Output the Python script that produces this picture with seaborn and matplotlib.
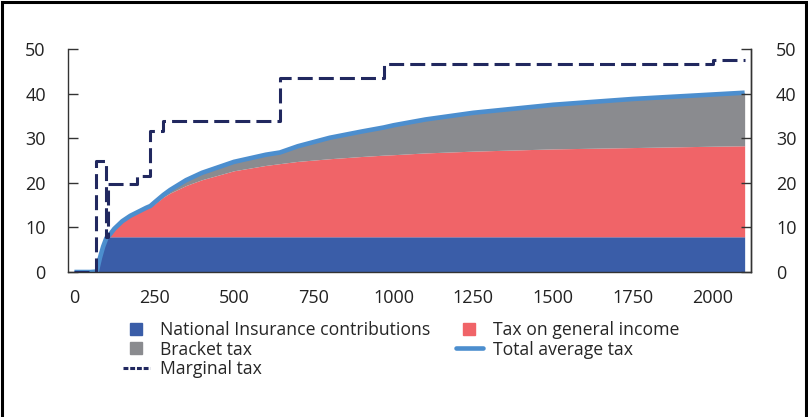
import numpy as np
import pandas as pd
import matplotlib
matplotlib.use("Agg")
import matplotlib.pyplot as plt
from matplotlib.lines import Line2D
from matplotlib.patches import Rectangle
import seaborn as sns

# --------------------------------------------------
# DATA (income in 1000 NOK, tax in percent)
# --------------------------------------------------

income = [0, 50, 70, 80, 90, 100, 110, 125, 150, 175, 200, 225, 238, 250, 279,
          300, 350, 400, 500, 600, 644, 700, 800, 900, 969, 1000, 1100, 1250,
          1500, 1750, 2000, 2100]

ni_contrib = [0, 0, 0.1, 3.2, 5.7, 7.6, 7.9, 7.9, 7.9, 7.9, 7.9, 7.9, 7.9, 7.9, 7.9,
              7.9, 7.9, 7.9, 7.9, 7.9, 7.9, 7.9, 7.9, 7.9, 7.9, 7.9, 7.9, 7.9,
              7.9, 7.9, 7.9, 7.9]

general_tax = [0, 0, 0, 0, 0, 0, 0.4, 1.8, 3.5, 4.7, 5.6, 6.3, 6.6, 7.3, 8.9,
               9.8, 11.5, 12.8, 14.8, 16.0, 16.4, 16.9, 17.5, 18.0, 18.3, 18.4, 18.8, 19.2,
               19.7, 20.0, 20.3, 20.4]

bracket_tax = [0, 0, 0, 0, 0, 0, 0, 0, 0, 0, 0, 0.2, 0.3, 0.35, 0.5,
               0.7, 1.2, 1.55, 2.0, 2.4, 2.5, 3.4, 4.7, 5.6, 6.2, 6.6, 7.5, 8.6,
               9.9, 10.9, 11.6, 11.9]

marginal_x = [0, 68, 98, 106, 195, 238, 279, 645, 969, 2000, 2100]
marginal_y = [0, 25, 7.9, 19.8, 21.5, 31.6, 33.9, 43.6, 46.6, 47.6, 47.6]

labels = ["National Insurance contributions", "Tax on general income",
          "Bracket tax", "Total average tax", "Marginal tax"]

x_ticks = [0, 250, 500, 750, 1000, 1250, 1500, 1750, 2000]
y_ticks = [0, 10, 20, 30, 40, 50]

# --------------------------------------------------
# STYLE
# --------------------------------------------------

sns.set_style("white")
plt.rcParams["font.family"] = ["Open Sans", "DejaVu Sans"]
plt.rcParams["font.size"] = 12.7

c_ni = "#3a5da8"
c_gen = "#f06468"
c_brk = "#8a8b8f"
c_tot = "#4c8ece"
c_marg = "#21285f"
c_axis = "#333333"

df = pd.DataFrame({
    "income": income,
    "ni": ni_contrib,
    "general": general_tax,
    "bracket": bracket_tax,
})
df["total"] = df["ni"] + df["general"] + df["bracket"]

marg = pd.DataFrame({"income": marginal_x, "rate": marginal_y})

# --------------------------------------------------
# PLOT
# --------------------------------------------------

fig = plt.figure(figsize=(8.08, 4.17), dpi=100)
ax = fig.add_axes([0.0842, 0.3477, 0.8453, 0.5348])

ax.stackplot(df["income"], df["ni"], df["general"], df["bracket"],
             colors=[c_ni, c_gen, c_brk], linewidth=0, zorder=1)

sns.lineplot(data=df, x="income", y="total", ax=ax, color=c_tot,
             linewidth=3.3, zorder=2, solid_capstyle="butt")

sns.lineplot(data=marg, x="income", y="rate", ax=ax, color=c_marg,
             linewidth=2.2, drawstyle="steps-post", zorder=3,
             dashes=False, linestyle=(0, (4.9, 2.0)))

ax.set_xlim(-20, 2120)
ax.set_ylim(0, 50)
ax.set_xticks(x_ticks)
ax.set_yticks(y_ticks)
ax.set_xlabel("")
ax.set_ylabel("")

for s in ["left", "bottom", "right"]:
    ax.spines[s].set_color(c_axis)
    ax.spines[s].set_linewidth(1.0)
ax.spines["top"].set_visible(False)

ax.tick_params(axis="x", length=0, pad=12.5, colors="#222222", labelsize=13)
ax.tick_params(axis="y", direction="in", length=7, width=1, color=c_axis,
               pad=16, labelcolor="#222222", labelsize=13)

ax2 = ax.twinx()
ax2.set_ylim(0, 50)
ax2.set_yticks(y_ticks)
for s in ["left", "bottom", "top"]:
    ax2.spines[s].set_visible(False)
ax2.spines["right"].set_color(c_axis)
ax2.spines["right"].set_linewidth(1.0)
ax2.tick_params(axis="y", direction="in", length=7, width=1, color=c_axis,
                pad=18, labelcolor="#222222", labelsize=13)

# --------------------------------------------------
# LEGEND
# --------------------------------------------------

h_ni = Line2D([], [], marker="s", ls="", color=c_ni, markersize=9)
h_gen = Line2D([], [], marker="s", ls="", color=c_gen, markersize=9)
h_brk = Line2D([], [], marker="s", ls="", color=c_brk, markersize=9)
h_tot = Line2D([], [], color=c_tot, lw=3.3)
h_marg = Line2D([], [], color=c_marg, lw=2.2, linestyle=(0, (1.6, 0.6)))

fig.legend([h_ni, h_brk, h_marg, h_gen, h_tot],
           [labels[0], labels[2], labels[4], labels[1], labels[3]],
           ncol=2, loc="upper left", bbox_to_anchor=(0.152, 0.2305),
           frameon=False, borderpad=0, borderaxespad=0,
           handlelength=1.55, handletextpad=0.55, columnspacing=1.45,
           labelspacing=0.1, fontsize=12.7)

# figure frame
fig.add_artist(Rectangle((0.003, -0.05), 0.994, 1.045, transform=fig.transFigure,
                         fill=False, edgecolor="black", linewidth=2.2))

fig.savefig("out.png", dpi=100)
